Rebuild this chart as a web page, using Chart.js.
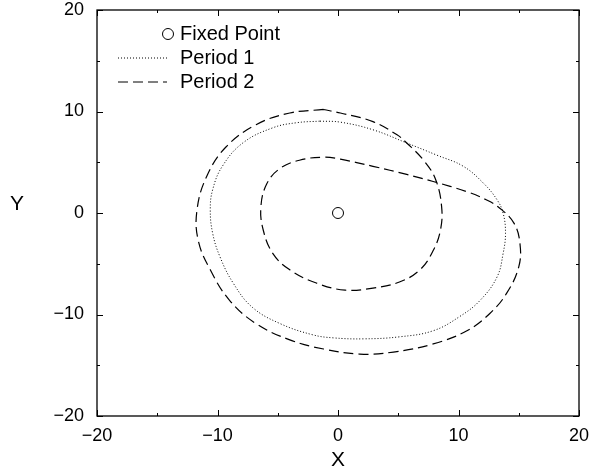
<!DOCTYPE html>
<html>
<head>
<meta charset="utf-8">
<script src="https://cdn.jsdelivr.net/npm/chart.js@4.4.0/dist/chart.umd.min.js"></script>
<style>
  html, body { margin: 0; padding: 0; background: #fff; }
  #wrap { width: 592px; height: 472px; }
</style>
</head>
<body>
<div id="wrap"><canvas id="chart" width="592" height="472"></canvas></div>
<script>
// values
const fixedX = [0];
const fixedY = [0];

const p1X = [-1.5, 0.2, 2.9, 5.7, 8.2, 10.4, 12.1, 13.2, 13.7, 13.9, 13.7, 13.2, 11.8, 10.1, 7.9, 5.1, 2.1, -0.4, -2.1, -4.8, -7.1, -8.7, -9.8, -10.4, -10.6, -10.4, -9.6, -7.9, -5.4, -3.4, -1.5];
const p1Y = [9.05, 8.95, 8.2, 6.9, 5.7, 4.6, 2.9, 1.3, 0.0, -2.0, -4.0, -6.3, -8.6, -10.2, -11.6, -12.2, -12.4, -12.3, -12.0, -10.9, -9.3, -6.9, -4.3, -2.0, 0.3, 2.3, 4.6, 6.9, 8.4, 8.9, 9.05];

const p2X = [-1.2, -4.0, -6.8, -9.3, -10.9, -11.7, -11.6, -10.6, -9.0, -6.8, -4.0, -1.2, 1.8, 4.6, 7.9, 10.7, 12.6, 14.0, 15.0, 15.1, 14.6, 13.4, 12.3, 10.7, 7.9, 5.7, 2.9, 0.2, -1.2, -3.2, -4.8, -5.9, -6.4, -6.2, -5.4, -4.0, -1.8, 0.6, 2.9, 5.1, 6.8, 7.9, 8.5, 8.6, 8.1, 7.1, 5.7, 4.9, 2.9, 0.2, -1.2];
const p2Y = [10.2, 9.85, 8.7, 6.5, 3.6, 0.3, -2.7, -5.6, -8.6, -10.9, -12.5, -13.4, -13.9, -13.7, -12.9, -11.6, -9.9, -7.9, -5.3, -3.0, -1.0, 0.5, 1.3, 2.1, 3.1, 3.8, 4.6, 5.3, 5.5, 5.2, 4.4, 2.9, 0.6, -1.7, -4.0, -5.6, -6.9, -7.6, -7.4, -6.8, -5.6, -3.7, -1.7, 0.6, 3.3, 5.2, 6.9, 7.7, 9.0, 9.85, 10.2];

const axisMin = -20, axisMax = 20;
const majorTicks = [-20, -10, 0, 10, 20];
const minorTicks = [-15, -5, 5, 15];
const legendLabels = ['Fixed Point', 'Period 1', 'Period 2'];

const FONT = '"Liberation Sans", Arial, sans-serif';

function toPoints(xs, ys) {
  return xs.map((x, i) => ({ x: x, y: ys[i] }));
}
function fmt(v) {
  return String(v).replace('-', '\u2212');
}

const frame = {
  id: 'frame',
  afterDraw(chart) {
    const ctx = chart.ctx;
    const a = chart.chartArea;
    const sx = chart.scales.x, sy = chart.scales.y;
    ctx.save();
    ctx.strokeStyle = '#000';
    ctx.lineWidth = 1.3;
    ctx.setLineDash([]);
    ctx.strokeRect(a.left, a.top, a.right - a.left, a.bottom - a.top);

    // inward tick marks on all four sides
    ctx.lineWidth = 1;
    ctx.beginPath();
    const mark = (v, len) => {
      const px = Math.round(sx.getPixelForValue(v)) + 0.5;
      const py = Math.round(sy.getPixelForValue(v)) + 0.5;
      ctx.moveTo(px, a.bottom); ctx.lineTo(px, a.bottom - len);
      ctx.moveTo(px, a.top); ctx.lineTo(px, a.top + len);
      ctx.moveTo(a.left, py); ctx.lineTo(a.left + len, py);
      ctx.moveTo(a.right, py); ctx.lineTo(a.right - len, py);
    };
    majorTicks.forEach(v => mark(v, 6));
    minorTicks.forEach(v => mark(v, 3));
    ctx.stroke();

    // axis titles
    ctx.fillStyle = '#000';
    ctx.font = '21px ' + FONT;
    ctx.textAlign = 'center';
    ctx.textBaseline = 'middle';
    ctx.fillText('X', (a.left + a.right) / 2, 460);
    ctx.fillText('Y', 17, 204);

    // legend
    ctx.font = '20px ' + FONT;
    ctx.textAlign = 'left';
    const tx = 180, rows = [34, 58, 82];
    legendLabels.forEach((t, i) => ctx.fillText(t, tx, rows[i]));
    ctx.beginPath();
    ctx.arc(168, rows[0], 5.5, 0, Math.PI * 2);
    ctx.fillStyle = '#fff';
    ctx.fill();
    ctx.stroke();
    ctx.beginPath();
    ctx.setLineDash([1, 2]);
    ctx.moveTo(118, rows[1]); ctx.lineTo(167, rows[1]);
    ctx.stroke();
    ctx.beginPath();
    ctx.setLineDash([10, 5]);
    ctx.moveTo(118, rows[2]); ctx.lineTo(167, rows[2]);
    ctx.stroke();
    ctx.restore();
  }
};

new Chart(document.getElementById('chart'), {
  type: 'scatter',
  data: {
    datasets: [
      {
        label: legendLabels[1],
        data: toPoints(p1X, p1Y),
        showLine: true,
        borderColor: '#000',
        borderWidth: 1,
        borderDash: [1, 2],
        tension: 0.4,
        pointRadius: 0
      },
      {
        label: legendLabels[2],
        data: toPoints(p2X, p2Y),
        showLine: true,
        borderColor: '#000',
        borderWidth: 1.2,
        borderDash: [10, 5],
        tension: 0.4,
        pointRadius: 0
      },
      {
        label: legendLabels[0],
        data: toPoints(fixedX, fixedY),
        pointRadius: 5.5,
        pointBackgroundColor: '#fff',
        pointBorderColor: '#000',
        pointBorderWidth: 1
      }
    ]
  },
  options: {
    responsive: false,
    animation: false,
    layout: { padding: { top: 10, right: 13, left: 0, bottom: 0 } },
    plugins: { legend: { display: false }, tooltip: { enabled: false } },
    scales: {
      x: {
        type: 'linear',
        min: axisMin, max: axisMax,
        afterFit(s) { s.height = 56; s.paddingLeft = 0; s.paddingRight = 0; },
        afterBuildTicks(s) { s.ticks = majorTicks.map(v => ({ value: v })); },
        grid: { display: false, drawTicks: false },
        border: { display: false },
        ticks: { color: '#000', padding: 9, font: { family: FONT, size: 18 }, callback: fmt, maxRotation: 0 }
      },
      y: {
        type: 'linear',
        min: axisMin, max: axisMax,
        afterFit(s) { s.width = 97; s.paddingTop = 0; s.paddingBottom = 0; },
        afterBuildTicks(s) { s.ticks = majorTicks.map(v => ({ value: v })); },
        grid: { display: false, drawTicks: false },
        border: { display: false },
        ticks: { color: '#000', padding: 13, font: { family: FONT, size: 18 }, callback: fmt }
      }
    }
  },
  plugins: [frame]
});
</script>
</body>
</html>
